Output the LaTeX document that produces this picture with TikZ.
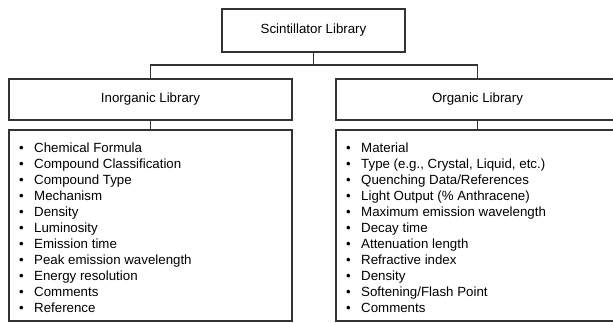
\documentclass[tikz,border=0pt]{standalone}
\usepackage{fontspec}
\setmainfont{Liberation Sans}
\begin{document}
\begin{tikzpicture}[x=1pt,y=-1pt,
  box/.style={draw=black!80, line width=1.3pt, fill=white, inner sep=0pt, font=\fontsize{13.3}{16}\selectfont},
  link/.style={draw=black!80, line width=1.3pt},
  item/.style={inner sep=0pt, anchor=base west, font=\fontsize{13.3}{16}\selectfont}]
\useasboundingbox (0,0) rectangle (613,322);
\clip (0,0) rectangle (613,322);
\node[box, minimum width=183pt, minimum height=43pt] (top) at (313.5,30.5) {Scintillator Library};
\node[box, minimum width=283pt, minimum height=41pt] (inlab) at (150.5,99.5) {Inorganic Library};
\node[box, minimum width=283pt, minimum height=41pt] (orlab) at (477.5,99.5) {Organic Library};
\node[box, minimum width=283pt, minimum height=191pt] (inlist) at (150.5,225.5) {};
\node[box, minimum width=283pt, minimum height=191pt] (orlist) at (477.5,225.5) {};
\coordinate (mid) at (313.5,65);
\draw[link] (top.south) -- (mid);
\draw[link] (inlab.north) |- (mid) -| (orlab.north);
\draw[link] (inlab.south) -- (inlist.north);
\draw[link] (orlab.south) -- (orlist.north);
\foreach \t [count=\i] in {Chemical Formula, Compound Classification, Compound Type, Mechanism, Density, Luminosity, Emission time, Peak emission wavelength, Energy resolution, Comments, Reference}
  {\node[item] (in\i) at (19,152.7+16*\i-16) {\makebox[15pt][l]{\textbullet}\t};}
\foreach \t [count=\i] in {Material, {Type (e.g., Crystal, Liquid, etc.)}, Quenching Data/References, Light Output (\% Anthracene), Maximum emission wavelength, Decay time, Attenuation length, Refractive index, Density, Softening/Flash Point, Comments}
  {\node[item] (or\i) at (346,152.7+16*\i-16) {\makebox[15pt][l]{\textbullet}\t};}
\end{tikzpicture}
\end{document}
